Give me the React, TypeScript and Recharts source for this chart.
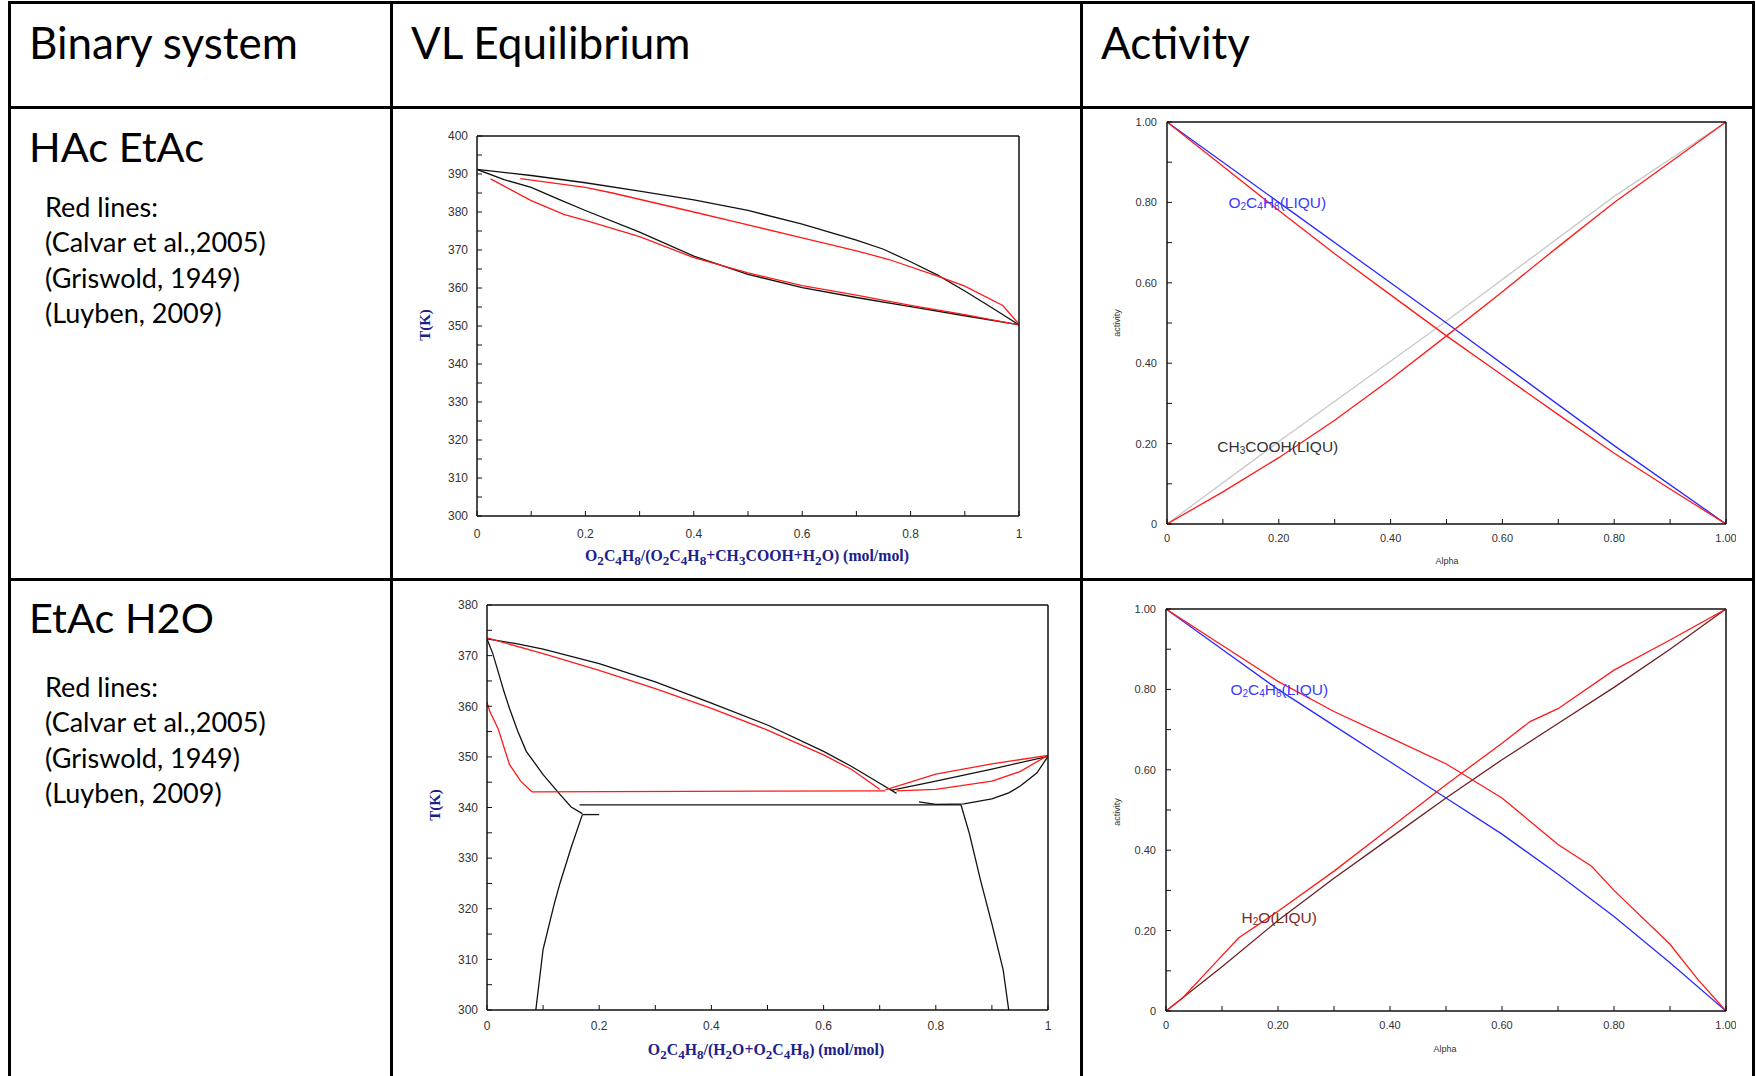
import React from 'react';
import { LineChart, Line, XAxis, YAxis, ReferenceDot } from 'recharts';

type Pt = { x: number; y: number };

// ---- axis ticks ----
const fracTicks = [0, 0.1, 0.2, 0.3, 0.4, 0.5, 0.6, 0.7, 0.8, 0.9, 1];
const vleFracLabels = ['0', '', '0.2', '', '0.4', '', '0.6', '', '0.8', '', '1'];
const actLabels = ['0', '', '0.20', '', '0.40', '', '0.60', '', '0.80', '', '1.00'];

const tTicksHacEtac = [300, 305, 310, 315, 320, 325, 330, 335, 340, 345, 350, 355, 360, 365, 370, 375, 380, 385, 390, 395, 400];
const tLabelsHacEtac = ['300', '', '310', '', '320', '', '330', '', '340', '', '350', '', '360', '', '370', '', '380', '', '390', '', '400'];
const tTicksEtacWater = [300, 305, 310, 315, 320, 325, 330, 335, 340, 345, 350, 355, 360, 365, 370, 375, 380];
const tLabelsEtacWater = ['300', '', '310', '', '320', '', '330', '', '340', '', '350', '', '360', '', '370', '', '380'];

// ---- HAc / EtAc : T-xy ----
const hacEtacDewModel: Pt[] = [
  { x: 0, y: 391.2 }, { x: 0.1, y: 389.6 }, { x: 0.2, y: 387.7 }, { x: 0.3, y: 385.5 }, { x: 0.4, y: 383.2 },
  { x: 0.5, y: 380.4 }, { x: 0.6, y: 376.8 }, { x: 0.7, y: 372.6 }, { x: 0.75, y: 370.2 }, { x: 0.8, y: 366.9 },
  { x: 0.85, y: 363.4 }, { x: 0.9, y: 359.2 }, { x: 0.95, y: 354.8 }, { x: 1, y: 350.3 },
];
const hacEtacBubbleModel: Pt[] = [
  { x: 0, y: 391.2 }, { x: 0.05, y: 388.5 }, { x: 0.1, y: 386.5 }, { x: 0.15, y: 383.4 }, { x: 0.2, y: 380.4 },
  { x: 0.3, y: 374.7 }, { x: 0.4, y: 368.4 }, { x: 0.5, y: 363.6 }, { x: 0.6, y: 360.1 }, { x: 0.7, y: 357.5 },
  { x: 0.8, y: 355.1 }, { x: 0.9, y: 352.7 }, { x: 1, y: 350.3 },
];
const hacEtacDewLit: Pt[] = [
  { x: 0.08, y: 388.8 }, { x: 0.2, y: 386.5 }, { x: 0.25, y: 385 }, { x: 0.4, y: 380 }, { x: 0.5, y: 376.6 },
  { x: 0.6, y: 373.2 }, { x: 0.7, y: 369.8 }, { x: 0.76, y: 367.5 }, { x: 0.85, y: 363.1 }, { x: 0.9, y: 360.5 },
  { x: 0.97, y: 355.4 }, { x: 1, y: 350.5 },
];
const hacEtacBubbleLit: Pt[] = [
  { x: 0.025, y: 388.7 }, { x: 0.1, y: 383 }, { x: 0.16, y: 379.4 }, { x: 0.2, y: 377.8 }, { x: 0.3, y: 373.5 },
  { x: 0.4, y: 368 }, { x: 0.5, y: 364 }, { x: 0.6, y: 360.6 }, { x: 0.7, y: 358.1 }, { x: 0.8, y: 355.4 },
  { x: 0.9, y: 353 }, { x: 0.98, y: 350.8 }, { x: 1, y: 350.4 },
];

// ---- HAc / EtAc : activity ----
const hacEtacActEtacModel: Pt[] = [{ x: 0, y: 1 }, { x: 0.2, y: 0.8 }, { x: 0.5, y: 0.5 }, { x: 0.8, y: 0.195 }, { x: 1, y: 0 }];
const hacEtacActEtacLit: Pt[] = [
  { x: 0, y: 1 }, { x: 0.1, y: 0.89 }, { x: 0.2, y: 0.78 }, { x: 0.3, y: 0.672 }, { x: 0.4, y: 0.57 }, { x: 0.5, y: 0.468 },
  { x: 0.6, y: 0.37 }, { x: 0.7, y: 0.272 }, { x: 0.8, y: 0.176 }, { x: 0.9, y: 0.087 }, { x: 1, y: 0 },
];
const hacEtacActHacModel: Pt[] = [{ x: 0, y: 0 }, { x: 0.2, y: 0.205 }, { x: 0.5, y: 0.505 }, { x: 0.8, y: 0.815 }, { x: 1, y: 1 }];
const hacEtacActHacLit: Pt[] = [
  { x: 0, y: 0 }, { x: 0.1, y: 0.08 }, { x: 0.2, y: 0.165 }, { x: 0.3, y: 0.258 }, { x: 0.4, y: 0.36 }, { x: 0.5, y: 0.468 },
  { x: 0.6, y: 0.578 }, { x: 0.7, y: 0.69 }, { x: 0.8, y: 0.8 }, { x: 0.9, y: 0.9 }, { x: 1, y: 1 },
];

// ---- EtAc / H2O : T-xy ----
const ewDewLeftModel: Pt[] = [
  { x: 0, y: 373.3 }, { x: 0.05, y: 372.4 }, { x: 0.1, y: 371.3 }, { x: 0.2, y: 368.4 }, { x: 0.3, y: 364.8 },
  { x: 0.4, y: 360.6 }, { x: 0.5, y: 356.3 }, { x: 0.6, y: 351.1 }, { x: 0.65, y: 348.1 }, { x: 0.7, y: 344.8 }, { x: 0.73, y: 342.8 },
];
const ewDewRightModel: Pt[] = [{ x: 0.72, y: 343.4 }, { x: 0.8, y: 345.2 }, { x: 0.9, y: 347.6 }, { x: 1, y: 350.1 }];
const ewBubbleRightModel: Pt[] = [
  { x: 0.77, y: 341.1 }, { x: 0.8, y: 340.6 }, { x: 0.85, y: 340.7 }, { x: 0.9, y: 341.7 }, { x: 0.93, y: 342.9 },
  { x: 0.95, y: 344.2 }, { x: 0.98, y: 346.8 }, { x: 1, y: 350.1 },
];
const ewBubbleLeftModel: Pt[] = [
  { x: 0, y: 373.3 }, { x: 0.01, y: 370.5 }, { x: 0.02, y: 366.8 }, { x: 0.03, y: 363 }, { x: 0.04, y: 359.6 },
  { x: 0.055, y: 355 }, { x: 0.07, y: 351.1 }, { x: 0.1, y: 346.5 }, { x: 0.13, y: 342.6 }, { x: 0.15, y: 340.1 }, { x: 0.17, y: 338.8 },
];
const ewStubModel: Pt[] = [{ x: 0.17, y: 338.6 }, { x: 0.2, y: 338.6 }];
const ewLleLeftModel: Pt[] = [
  { x: 0.17, y: 338.6 }, { x: 0.15, y: 332.1 }, { x: 0.13, y: 325 }, { x: 0.12, y: 321 }, { x: 0.1, y: 312 }, { x: 0.087, y: 300 },
];
const ewThreePhaseModel: Pt[] = [{ x: 0.165, y: 340.5 }, { x: 0.845, y: 340.5 }];
const ewLleRightModel: Pt[] = [
  { x: 0.845, y: 340.5 }, { x: 0.86, y: 334.8 }, { x: 0.88, y: 325.5 }, { x: 0.9, y: 317 }, { x: 0.92, y: 308 }, { x: 0.93, y: 300 },
];
const ewDewLeftLit: Pt[] = [
  { x: 0, y: 373.5 }, { x: 0.1, y: 370.4 }, { x: 0.2, y: 367.1 }, { x: 0.3, y: 363.5 }, { x: 0.4, y: 359.6 },
  { x: 0.5, y: 355.3 }, { x: 0.6, y: 350.4 }, { x: 0.65, y: 347.5 }, { x: 0.7, y: 343.6 },
];
const ewBubbleLeftLit: Pt[] = [
  { x: 0, y: 360.8 }, { x: 0.005, y: 359 }, { x: 0.02, y: 355.5 }, { x: 0.04, y: 348.5 }, { x: 0.06, y: 345.2 }, { x: 0.08, y: 343.1 },
];
const ewThreePhaseLit: Pt[] = [{ x: 0.08, y: 343.1 }, { x: 0.71, y: 343.3 }];
const ewDewRightLit: Pt[] = [{ x: 0.71, y: 343.5 }, { x: 0.8, y: 346.6 }, { x: 0.9, y: 348.6 }, { x: 1, y: 350.3 }];
const ewBubbleRightLit: Pt[] = [{ x: 0.73, y: 343.3 }, { x: 0.8, y: 343.6 }, { x: 0.9, y: 345.2 }, { x: 0.95, y: 347.1 }, { x: 1, y: 350.3 }];

// ---- EtAc / H2O : activity ----
const ewActEtacModel: Pt[] = [
  { x: 0, y: 1 }, { x: 0.1, y: 0.9 }, { x: 0.2, y: 0.8 }, { x: 0.3, y: 0.71 }, { x: 0.4, y: 0.62 }, { x: 0.5, y: 0.53 },
  { x: 0.6, y: 0.44 }, { x: 0.7, y: 0.34 }, { x: 0.8, y: 0.235 }, { x: 0.9, y: 0.12 }, { x: 1, y: 0 },
];
const ewActEtacLit: Pt[] = [
  { x: 0, y: 1 }, { x: 0.1, y: 0.91 }, { x: 0.2, y: 0.82 }, { x: 0.3, y: 0.745 }, { x: 0.4, y: 0.68 }, { x: 0.5, y: 0.615 },
  { x: 0.6, y: 0.53 }, { x: 0.65, y: 0.472 }, { x: 0.7, y: 0.414 }, { x: 0.76, y: 0.36 }, { x: 0.8, y: 0.3 },
  { x: 0.9, y: 0.166 }, { x: 0.95, y: 0.078 }, { x: 1, y: 0 },
];
const ewActWaterModel: Pt[] = [
  { x: 0, y: 0 }, { x: 0.1, y: 0.11 }, { x: 0.2, y: 0.225 }, { x: 0.3, y: 0.33 }, { x: 0.4, y: 0.43 }, { x: 0.5, y: 0.53 },
  { x: 0.6, y: 0.625 }, { x: 0.7, y: 0.715 }, { x: 0.8, y: 0.805 }, { x: 0.9, y: 0.9 }, { x: 1, y: 1 },
];
const ewActWaterLit: Pt[] = [
  { x: 0, y: 0 }, { x: 0.03, y: 0.033 }, { x: 0.08, y: 0.108 }, { x: 0.13, y: 0.182 }, { x: 0.2, y: 0.248 }, { x: 0.3, y: 0.348 },
  { x: 0.4, y: 0.455 }, { x: 0.5, y: 0.563 }, { x: 0.6, y: 0.666 }, { x: 0.65, y: 0.72 }, { x: 0.7, y: 0.752 },
  { x: 0.8, y: 0.848 }, { x: 0.9, y: 0.923 }, { x: 1, y: 1 },
];

const RED = '#ff1a1a';
const BLACK = '#111';
const BLUE = '#2a2aff';
const NAVY = '#20208a';
const TEXT_FONT = 'Lato, "Open Sans", sans-serif';
const AXIS_FONT = '"Liberation Sans", Arial, sans-serif';

interface Series { data: Pt[]; color: string }
interface Tag { x: number; y: number; parts: string[]; color: string }
interface Box { l: number; t: number; r: number; b: number }

// alternating plain / subscript parts
const chemLabel = (parts: string[], color: string) => (props: any) => {
  const vb = props.viewBox || {};
  return (
    <text x={vb.x} y={vb.y} fill={color} fontSize={15.5} fontFamily={AXIS_FONT} dominantBaseline="central">
      {parts.map((p, i) => {
        const sub = i % 2 === 1;
        const dy = sub ? 4 : i > 0 ? -4 : 0;
        return (
          <tspan key={i} dy={dy} fontSize={sub ? 10 : 15.5}>{p}</tspan>
        );
      })}
    </text>
  );
};

interface PlotProps {
  box: Box;
  yDomain: [number, number];
  yTicks: number[];
  yLabels: string[];
  xLabels: string[];
  fontSize: number;
  xTickMargin: number;
  yTickMargin: number;
  series: Series[];
  tags?: Tag[];
}

const frame = { stroke: BLACK, strokeWidth: 1.5 };
const tickLine = { stroke: BLACK, strokeWidth: 1 };

const Plot: React.FC<PlotProps> = ({ box, yDomain, yTicks, yLabels, xLabels, fontSize, xTickMargin, yTickMargin, series, tags }) => {
  const w = box.r - box.l + 70;
  const h = box.b - box.t + 40;
  const tickFont = { fill: '#333', fontSize, fontFamily: AXIS_FONT };
  return (
    <div style={{ position: 'absolute', left: box.l - 60, top: box.t - 10 }}>
      <LineChart width={w} height={h} margin={{ top: 9, right: 9, bottom: 0, left: 10 }}>
        <XAxis xAxisId="b" type="number" dataKey="x" domain={[0, 1]} ticks={fracTicks} interval={0} allowDataOverflow
          tickFormatter={(v: number, i: number) => xLabels[i]} tickSize={-5} tickMargin={xTickMargin} height={30}
          axisLine={frame} tickLine={tickLine} tick={tickFont} />
        <XAxis xAxisId="t" orientation="top" type="number" dataKey="x" domain={[0, 1]} ticks={fracTicks} interval={0} allowDataOverflow
          tick={false} tickSize={-5} height={1} axisLine={frame} tickLine={tickLine} />
        <YAxis yAxisId="l" type="number" domain={yDomain} ticks={yTicks} interval={0} allowDataOverflow
          tickFormatter={(v: number, i: number) => yLabels[i]} tickSize={-5} tickMargin={yTickMargin} width={50}
          axisLine={frame} tickLine={tickLine} tick={tickFont} />
        <YAxis yAxisId="r" orientation="right" type="number" domain={yDomain} ticks={yTicks} interval={0} allowDataOverflow
          tick={false} tickSize={-5} width={1} axisLine={frame} tickLine={tickLine} />
        {series.map((s, i) => (
          <Line key={i} xAxisId="b" yAxisId="l" data={s.data} dataKey="y" type="linear" stroke={s.color}
            strokeWidth={1.3} dot={false} activeDot={false} isAnimationActive={false} />
        ))}
        {(tags || []).map((t, i) => (
          <ReferenceDot key={'tag' + i} xAxisId="b" yAxisId="l" x={t.x} y={t.y} r={0} fill="none" stroke="none"
            label={chemLabel(t.parts, t.color)} />
        ))}
      </LineChart>
    </div>
  );
};

const Abs: React.FC<{ x: number; y: number; style?: React.CSSProperties; rotate?: boolean; children: React.ReactNode }> = ({ x, y, style, rotate, children }) => (
  <div style={{
    position: 'absolute', left: x, top: y, whiteSpace: 'nowrap', lineHeight: 1,
    transform: rotate ? 'translate(-50%,-50%) rotate(-90deg)' : 'translate(-50%,-50%)', ...style,
  }}>{children}</div>
);

const serifTitle: React.CSSProperties = { fontFamily: '"Liberation Serif", "DejaVu Serif", serif', fontWeight: 'bold', fontSize: 15.8, color: NAVY };
const smallAxis: React.CSSProperties = { fontFamily: AXIS_FONT, fontSize: 9, color: '#333' };

const headers = [
  { text: 'Binary system', x: 29 },
  { text: 'VL Equilibrium', x: 411 },
  { text: 'Activity', x: 1101 },
];
const rowTitles = [
  { text: 'HAc EtAc', y: 148 },
  { text: 'EtAc H2O', y: 619 },
];
const refNotes = ['Red lines:', '(Calvar et al.,2005)', '(Griswold, 1949)', '(Luyben, 2009)'];
const noteStarts = [207, 687];

const hline = (top: number, height: number): React.CSSProperties => ({ position: 'absolute', left: 8, width: 1747, top, height, background: '#000' });
const vline = (left: number, width: number): React.CSSProperties => ({ position: 'absolute', top: 1, bottom: 0, left, width, background: '#000' });

export default function App() {
  return (
    <div style={{ position: 'absolute', left: 0, top: 0, width: 1756, height: 1076, background: '#fff', overflow: 'hidden', fontFamily: TEXT_FONT }}>
      {/* table grid */}
      <div style={hline(1, 3)} />
      <div style={hline(106, 3)} />
      <div style={hline(578, 2.5)} />
      <div style={vline(8, 2.5)} />
      <div style={vline(390, 2.5)} />
      <div style={vline(1080, 2.5)} />
      <div style={vline(1752, 2.5)} />

      {headers.map((h) => (
        <div key={h.text} style={{ position: 'absolute', left: h.x, top: 43 - 23, fontSize: 44, lineHeight: 1, color: '#000', whiteSpace: 'nowrap' }}>{h.text}</div>
      ))}
      {rowTitles.map((r) => (
        <div key={r.text} style={{ position: 'absolute', left: 29, top: r.y - 22, fontSize: 41.5, lineHeight: 1, color: '#000', whiteSpace: 'nowrap' }}>{r.text}</div>
      ))}
      {noteStarts.map((y0) => refNotes.map((n, i) => (
        <div key={y0 + n} style={{ position: 'absolute', left: 45, top: y0 + i * 35.5 - 14.3, fontSize: 27, lineHeight: 1, color: '#000', whiteSpace: 'nowrap' }}>{n}</div>
      )))}

      {/* HAc EtAc - VLE */}
      <Plot box={{ l: 477, t: 136, r: 1019, b: 516 }} yDomain={[300, 400]} yTicks={tTicksHacEtac} yLabels={tLabelsHacEtac}
        xLabels={vleFracLabels} fontSize={12} xTickMargin={18} yTickMargin={14}
        series={[
          { data: hacEtacDewModel, color: BLACK },
          { data: hacEtacBubbleModel, color: BLACK },
          { data: hacEtacDewLit, color: RED },
          { data: hacEtacBubbleLit, color: RED },
        ]} />
      <Abs x={425} y={325} rotate style={{ ...serifTitle, fontSize: 15 }}>T(K)</Abs>
      <Abs x={747} y={558} style={serifTitle}>
        O<sub>2</sub>C<sub>4</sub>H<sub>8</sub>/(O<sub>2</sub>C<sub>4</sub>H<sub>8</sub>+CH<sub>3</sub>COOH+H<sub>2</sub>O) (mol/mol)
      </Abs>

      {/* HAc EtAc - activity */}
      <Plot box={{ l: 1167, t: 122, r: 1726, b: 524 }} yDomain={[0, 1]} yTicks={fracTicks} yLabels={actLabels}
        xLabels={actLabels} fontSize={11} xTickMargin={15} yTickMargin={15}
        series={[
          { data: hacEtacActHacModel, color: '#c8c8c8' },
          { data: hacEtacActEtacModel, color: BLUE },
          { data: hacEtacActEtacLit, color: RED },
          { data: hacEtacActHacLit, color: RED },
        ]}
        tags={[
          { x: 0.11, y: 0.8, parts: ['O', '2', 'C', '4', 'H', '8', '(LIQU)'], color: '#3a3aff' },
          { x: 0.09, y: 0.195, parts: ['CH', '3', 'COOH(LIQU)'], color: '#333' },
        ]} />
      <Abs x={1117} y={323} rotate style={smallAxis}>activity</Abs>
      <Abs x={1447} y={561} style={smallAxis}>Alpha</Abs>

      {/* EtAc H2O - VLE */}
      <Plot box={{ l: 487, t: 605, r: 1048, b: 1010 }} yDomain={[300, 380]} yTicks={tTicksEtacWater} yLabels={tLabelsEtacWater}
        xLabels={vleFracLabels} fontSize={12} xTickMargin={16} yTickMargin={14}
        series={[
          { data: ewDewLeftModel, color: BLACK },
          { data: ewDewRightModel, color: BLACK },
          { data: ewBubbleRightModel, color: BLACK },
          { data: ewBubbleLeftModel, color: BLACK },
          { data: ewStubModel, color: BLACK },
          { data: ewLleLeftModel, color: BLACK },
          { data: ewThreePhaseModel, color: BLACK },
          { data: ewLleRightModel, color: BLACK },
          { data: ewDewLeftLit, color: RED },
          { data: ewBubbleLeftLit, color: RED },
          { data: ewThreePhaseLit, color: RED },
          { data: ewDewRightLit, color: RED },
          { data: ewBubbleRightLit, color: RED },
        ]} />
      <Abs x={435} y={805} rotate style={{ ...serifTitle, fontSize: 15 }}>T(K)</Abs>
      <Abs x={766} y={1052} style={serifTitle}>
        O<sub>2</sub>C<sub>4</sub>H<sub>8</sub>/(H<sub>2</sub>O+O<sub>2</sub>C<sub>4</sub>H<sub>8</sub>) (mol/mol)
      </Abs>

      {/* EtAc H2O - activity */}
      <Plot box={{ l: 1166, t: 609, r: 1726, b: 1011 }} yDomain={[0, 1]} yTicks={fracTicks} yLabels={actLabels}
        xLabels={actLabels} fontSize={11} xTickMargin={15} yTickMargin={15}
        series={[
          { data: ewActWaterModel, color: '#6e2020' },
          { data: ewActEtacModel, color: BLUE },
          { data: ewActEtacLit, color: RED },
          { data: ewActWaterLit, color: RED },
        ]}
        tags={[
          { x: 0.115, y: 0.8, parts: ['O', '2', 'C', '4', 'H', '8', '(LIQU)'], color: '#3a3aff' },
          { x: 0.135, y: 0.235, parts: ['H', '2', 'O(LIQU)'], color: '#7a2a2a' },
        ]} />
      <Abs x={1117} y={812} rotate style={smallAxis}>activity</Abs>
      <Abs x={1445} y={1049} style={smallAxis}>Alpha</Abs>
    </div>
  );
}
